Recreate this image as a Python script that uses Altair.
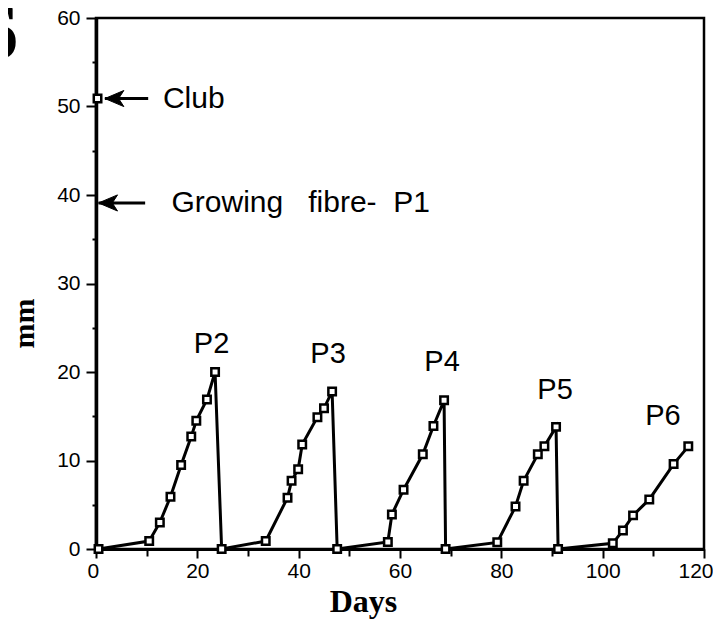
import altair as alt
import pandas as pd

# growth curve (days, mm)
days = [0.5, 10.5, 12.6, 14.7, 16.8, 18.8, 19.8, 21.9, 23.5, 24.8,
        33.5, 37.8, 38.6, 39.9, 40.7, 43.7, 45.0, 46.6, 47.6,
        57.6, 58.4, 60.7, 64.5, 66.6, 68.7, 69.0,
        79.2, 82.8, 84.4, 87.2, 88.5, 90.8, 91.2,
        102.0, 104.0, 106.0, 109.2, 114.0, 116.9]
mm = [0, 0.9, 3.0, 5.9, 9.5, 12.7, 14.5, 16.9, 20.0, 0,
      0.9, 5.8, 7.7, 9.0, 11.8, 14.9, 15.9, 17.8, 0,
      0.8, 3.9, 6.7, 10.7, 13.9, 16.8, 0,
      0.75, 4.8, 7.7, 10.7, 11.6, 13.8, 0,
      0.64, 2.1, 3.8, 5.6, 9.6, 11.6]

# club point
club_day = [0.3]
club_mm = [50.9]

# peak labels
peak_labels = ["P2", "P3", "P4", "P5", "P6"]
peak_x = [22.8, 45.8, 68.3, 90.6, 111.9]
peak_y = [23.2, 22.0, 21.1, 18.0, 15.0]

# annotations (arrows + text)
ann_text = ["Club", "Growing\u00a0\u00a0\u00a0fibre-\u00a0\u00a0P1"]
ann_text_x = [13.2, 14.9]
ann_y = [50.9, 39.1]
arrow_tip_x = [1.75, 0.5]
arrow_end_x = [10.3, 9.7]

x_ticks = list(range(0, 121, 10))
y_ticks = list(range(0, 61, 5))

curve = pd.DataFrame({"day": days, "mm": mm, "i": list(range(len(days)))})
club = pd.DataFrame({"day": club_day, "mm": club_mm})
peaks = pd.DataFrame({"label": peak_labels, "x": peak_x, "y": peak_y})
ann = pd.DataFrame({"text": ann_text, "tx": ann_text_x, "y": ann_y,
                    "ax": arrow_tip_x, "ex": arrow_end_x})
panel = pd.DataFrame({"t": ["6"], "x": [-15.4], "y": [55.5]})

xscale = alt.Scale(domain=[0, 120], nice=False, zero=False)
yscale = alt.Scale(domain=[0, 60], nice=False, zero=False)

xaxis = alt.Axis(values=x_ticks,
                 labelExpr="datum.value % 20 == 0 ? datum.label : ''",
                 tickSize={"condition": {"test": "datum.value % 20 != 0", "value": 7}, "value": 9},
                 tickWidth=2, tickColor="black", domainWidth=3, domainColor="black",
                 labelFont="Liberation Sans", labelFontSize=21, labelColor="black",
                 labelPadding=2, labelFlush=True, labelFlushOffset=9, grid=False,
                 title="Days", titleFont="Liberation Serif", titleFontSize=32,
                 titleFontWeight="bold", titleColor="black",
                 titleX=267, titleY=52, titleBaseline="middle", titleAlign="center")

yaxis = alt.Axis(values=y_ticks,
                 labelExpr="datum.value % 10 == 0 ? datum.label : ''",
                 tickSize={"condition": {"test": "datum.value % 10 != 0", "value": 4}, "value": 10},
                 tickWidth=2, tickColor="black", domainWidth=3.5, domainColor="black",
                 labelFont="Liberation Sans", labelFontSize=21, labelColor="black",
                 labelPadding=6, labelFlush=False, grid=False,
                 title="mm", titleFont="Liberation Serif", titleFontSize=30,
                 titleFontWeight="bold", titleColor="black",
                 titleX=-72, titleY=305, titleBaseline="middle", titleAlign="center",
                 titleAngle=270)

base = alt.Chart(curve)

line = base.mark_line(color="black", strokeWidth=3).encode(
    x=alt.X("day:Q", scale=xscale, axis=xaxis),
    y=alt.Y("mm:Q", scale=yscale, axis=yaxis),
    order="i:Q",
)

pts = base.mark_point(shape="square", size=56, filled=True, fill="white",
                      stroke="black", strokeWidth=2.5, opacity=1).encode(
    x="day:Q", y="mm:Q")

club_pt = alt.Chart(club).mark_point(shape="square", size=56, filled=True, fill="white",
                                     stroke="black", strokeWidth=2.5, opacity=1).encode(
    x="day:Q", y="mm:Q")

peak_txt = alt.Chart(peaks).mark_text(font="Liberation Sans", fontSize=29, color="black",
                                      align="center", baseline="middle").encode(
    x="x:Q", y="y:Q", text="label:N")

arrow_line = alt.Chart(ann).mark_rule(color="black", strokeWidth=3).encode(
    x="ax:Q", x2="ex:Q", y="y:Q")

arrow_head = alt.Chart(ann).mark_point(
    shape="M -1 0 L 1 -0.85 L 0.45 0 L 1 0.85 Z", size=360, filled=True,
    fill="black", stroke="black", strokeWidth=1, opacity=1, xOffset=9.5).encode(
    x="ax:Q", y="y:Q")

ann_txt = alt.Chart(ann).mark_text(font="Liberation Sans", fontSize=30, color="black",
                                   align="left", baseline="middle").encode(
    x="tx:Q", y="y:Q", text="text:N")

panel_txt = alt.Chart(panel).mark_text(font="Liberation Serif", fontSize=78,
                                       fontWeight="bold", color="black",
                                       align="right", baseline="alphabetic", clip=False).encode(
    x="x:Q", y="y:Q", text="t:N")

chart = alt.layer(line, pts, club_pt, arrow_line, arrow_head, peak_txt, ann_txt, panel_txt).properties(
    width=608, height=531,
    padding={"left": 88, "top": 10, "right": 9, "bottom": 70},
    autosize=alt.AutoSizeParams(type="none"),
    background="white",
).configure_view(stroke="black", strokeWidth=2.5)

chart.save("out.html", embed_options={"renderer": "svg", "actions": False})
